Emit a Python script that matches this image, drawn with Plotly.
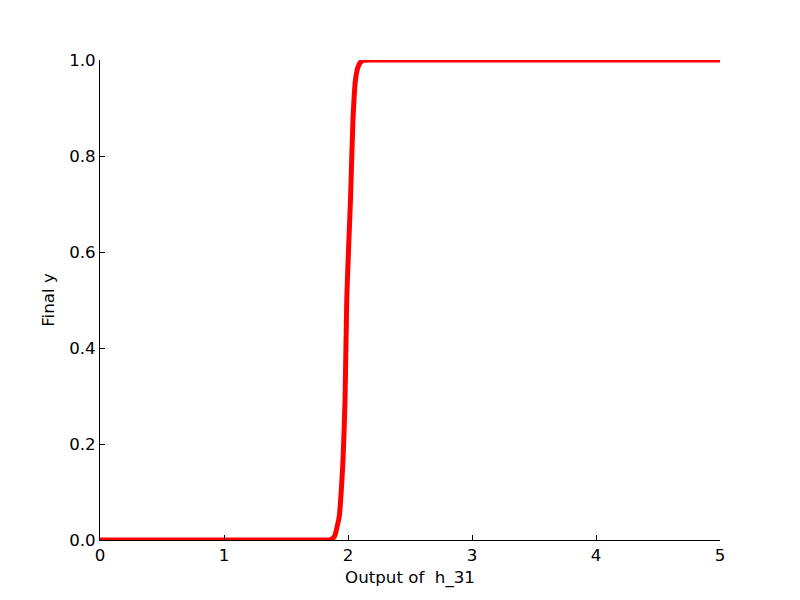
import plotly.graph_objects as go

x_vals = [0.0, 1.80, 1.86, 1.88, 1.895, 1.91, 1.93, 1.945, 1.96, 1.976, 1.99, 2.005, 2.02, 2.04, 2.06, 2.08, 2.10, 2.12, 2.20, 5.0]
y_vals = [0.0, 0.0, 0.001, 0.004, 0.01, 0.025, 0.05, 0.10, 0.167, 0.29, 0.50, 0.61, 0.708, 0.875, 0.958, 0.985, 0.995, 0.999, 1.0, 1.0]

x_title = "Output of \u00a0h_31"
y_title = "Final y"

fig = go.Figure()
fig.add_trace(go.Scatter(x=x_vals, y=y_vals, mode="lines",
                         line=dict(color="#ff0000", width=5, shape="spline", smoothing=0.6),
                         showlegend=False))

font = dict(family="DejaVu Sans", size=16.67, color="black")
fig.update_layout(
    width=800, height=600,
    margin=dict(l=92, r=88, t=52, b=68),
    paper_bgcolor="white", plot_bgcolor="white",
    font=font,
    xaxis=dict(range=[0, 5], dtick=1, showgrid=False, zeroline=False,
               showline=True, linecolor="black", linewidth=1,
               ticks="inside", ticklen=5, tickcolor="black",
               title=dict(text=x_title, font=font, standoff=7)),
    yaxis=dict(range=[0, 1], dtick=0.2, tickformat=".1f", showgrid=False, zeroline=False,
               showline=True, linecolor="black", linewidth=1,
               ticks="inside", ticklen=5, tickcolor="black",
               title=dict(text=y_title, font=font, standoff=10)),
)
fig.write_html("out.html")
